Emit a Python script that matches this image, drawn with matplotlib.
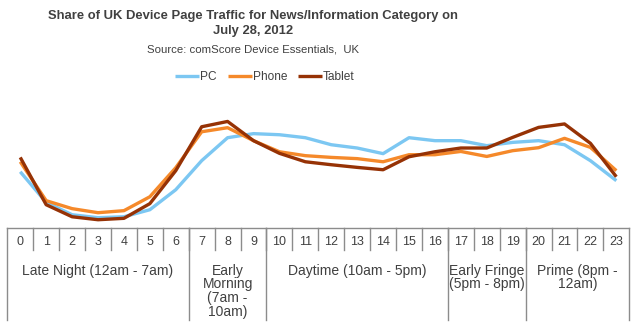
import numpy as np
import matplotlib
matplotlib.use('Agg')
import matplotlib.pyplot as plt

plt.rcParams['font.family'] = ['Liberation Sans', 'DejaVu Sans']

# share of daily page traffic (%) by hour
hours = list(range(24))
pc = [3.58, 1.62, 0.83, 0.64, 0.70, 1.15, 2.43, 4.29, 5.76, 6.02, 5.95, 5.76,
      5.31, 5.10, 4.74, 5.76, 5.57, 5.57, 5.25, 5.46, 5.57, 5.31, 4.29, 3.01]
phone = [4.22, 1.73, 1.22, 0.96, 1.09, 1.98, 3.84, 6.14, 6.40, 5.57, 4.86, 4.61,
         4.50, 4.42, 4.22, 4.67, 4.67, 4.88, 4.56, 4.93, 5.12, 5.72, 5.14, 3.65]
tablet = [4.50, 1.47, 0.70, 0.51, 0.60, 1.54, 3.65, 6.46, 6.80, 5.57, 4.76, 4.22,
          4.03, 3.86, 3.71, 4.54, 4.86, 5.10, 5.10, 5.78, 6.42, 6.64, 5.40, 3.26]

# day parts: label, first hour, last hour
groups = [('Late Night (12am - 7am)', 0, 6),
          ('Early\nMorning\n(7am -\n10am)', 7, 9),
          ('Daytime (10am - 5pm)', 10, 16),
          ('Early Fringe\n(5pm - 8pm)', 17, 19),
          ('Prime (8pm -\n12am)', 20, 23)]

W, H = 641, 328
fig = plt.figure(figsize=(W/100, H/100), dpi=100)
txt = '#404040'
grid = '#8c8c8c'

x0, x1 = 7.3, 629.3
ybase, ytop, ybot = 227.7, 95, 320
ax = fig.add_axes([x0/W, (H-ybase)/H, (x1-x0)/W, (ybase-ytop)/H])
ax.plot(hours, pc, color='#7CC7F2', lw=2.4, label='PC', solid_capstyle='butt')
ax.plot(hours, phone, color='#F5892A', lw=2.4, label='Phone', solid_capstyle='butt')
ax.plot(hours, tablet, color='#963205', lw=2.4, label='Tablet', solid_capstyle='butt')
ax.set_xlim(-0.5, 23.5)
ax.set_ylim(0, (ybase-ytop)*0.064)
ax.axis('off')

# table under the chart
tb = fig.add_axes([x0/W, (H-ybot)/H, (x1-x0)/W, (ybot-ybase)/H])
tb.set_xlim(-0.5, 23.5)
tb.set_ylim(ybot, ybase)
tb.axis('off')
tb.plot([-0.5, 23.5], [ybase, ybase], color=grid, lw=1, clip_on=False)
for h in hours:
    tb.text(h, 242, str(h), ha='center', va='center', fontsize=9, color=txt)
    if h > 0:
        tb.plot([h-0.5, h-0.5], [ybase, 250], color=grid, lw=1, clip_on=False)
for lab, a, b in groups:
    tb.plot([a-0.5, a-0.5], [ybase, ybot], color=grid, lw=1, clip_on=False)
    tb.text((a+b)/2, 263.5, lab, ha='center', va='top', fontsize=10, color=txt,
            linespacing=0.98)
tb.plot([23.5, 23.5], [ybase, ybot], color=grid, lw=1, clip_on=False)

fig.text(253/W, 1-23.5/H, 'Share of UK Device Page Traffic for News/Information Category on\nJuly 28, 2012',
         ha='center', va='center', fontsize=9.4, fontweight='bold', color=txt, linespacing=1.3)
fig.text(253/W, 1-50/H, 'Source: comScore Device Essentials,  UK', ha='center', va='center',
         fontsize=8.2, color=txt)
fig.legend(loc='center', bbox_to_anchor=(265/W, 1-77/H), ncol=3, frameon=False,
           fontsize=8.6, handlelength=2.0, handletextpad=0.1, columnspacing=0.9,
           labelcolor=txt)

fig.savefig('out.png', dpi=100)
